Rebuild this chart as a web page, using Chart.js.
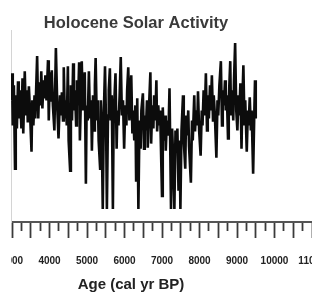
<!DOCTYPE html>
<html lang="en">
<head>
<meta charset="UTF-8">
<title>Holocene Solar Activity</title>
<style>
  body { margin: 0; background: #fff; }
</style>
</head>
<body>
<canvas id="myChart" width="312" height="296"></canvas>
<script src="https://cdn.jsdelivr.net/npm/chart.js"></script>
<script>
// age in cal yr BP
const ages = [
  2980,3000,3020,3050,3080,3100,3130,3160,3180,3210,
  3250,3280,3300,3340,3370,3400,3420,3450,3480,3520,
  3540,3570,3600,3620,3670,3700,3730,3760,3780,3810,
  3840,3860,3890,3920,3960,3980,4010,4040,4060,4090,
  4130,4170,4210,4240,4280,4300,4330,4360,4380,4410,
  4440,4460,4490,4510,4550,4570,4600,4630,4650,4680,
  4710,4730,4760,4790,4810,4840,4860,4890,4910,4940,
  4970,4990,5020,5050,5080,5110,5130,5160,5190,5210,
  5230,5260,5290,5310,5350,5370,5390,5420,5450,5480,
  5510,5530,5560,5580,5610,5630,5660,5690,5710,5740,
  5760,5790,5810,5840,5870,5900,5930,5960,5990,6020,
  6050,6070,6100,6130,6150,6180,6210,6230,6260,6290,
  6310,6340,6370,6400,6430,6450,6490,6520,6540,6570,
  6600,6620,6650,6690,6710,6740,6770,6790,6820,6850,
  6870,6900,6930,6950,7000,7020,7050,7080,7100,7130,
  7170,7200,7240,7270,7300,7330,7360,7390,7410,7440,
  7470,7490,7520,7560,7580,7620,7640,7670,7700,7720,
  7770,7800,7820,7860,7880,7910,7940,7960,7990,8030,
  8060,8080,8110,8140,8170,8200,8220,8250,8280,8300,
  8330,8360,8380,8410,8450,8480,8500,8530,8570,8600,
  8620,8650,8680,8700,8730,8760,8780,8820,8840,8870,
  8900,8920,8950,8980,9010,9040,9060,9090,9120,9140,
  9170,9200,9220,9260,9290,9310,9340,9370,9390,9430,
  9460,9480,9500
];

// solar activity index (arbitrary units, 0 = floor of the plot)
const activity = [
  108,135,83,123,40,113,80,127,90,118,
  80,130,75,137,93,118,86,122,96,57,
  108,83,113,90,152,90,126,103,137,100,
  128,110,133,108,148,88,136,108,138,103,
  78,160,98,70,113,93,116,88,141,90,
  108,83,142,68,38,123,88,145,98,118,
  83,128,103,146,68,113,147,98,113,136,
  25,103,88,137,90,108,58,113,78,123,
  150,88,108,68,40,108,83,0,98,142,
  78,0,93,118,140,88,113,0,88,118,
  135,60,98,83,113,151,93,108,60,103,
  83,118,141,88,108,133,75,98,68,103,
  27,110,0,88,60,98,115,60,93,78,
  108,61,98,136,65,103,80,113,88,128,
  77,103,83,98,13,101,68,93,58,88,
  73,120,0,80,48,0,78,58,80,18,
  68,0,78,113,68,40,93,73,98,63,
  26,88,68,113,77,98,83,117,78,53,
  98,83,118,93,135,78,113,90,123,98,
  133,88,113,93,51,108,93,123,147,83,
  118,103,128,98,113,70,108,147,93,118,
  88,128,165,98,78,113,93,125,60,103,
  143,83,108,57,98,83,111,78,98,35,
  93,128,90
];

const chartTitle = 'Holocene Solar Activity';
const axisTitle = 'Age (cal yr BP)';
const ageMin = 2973;
const ageMax = 11000;
const tickStep = 250;

// the source figure is cropped on the left: blank out whatever spills past the plot edge
const crop = {
  id: 'crop',
  afterDraw(chart) {
    const c = chart.ctx;
    c.save();
    c.fillStyle = '#fff';
    c.fillRect(0, 0, chart.chartArea.left, chart.height);
    c.restore();
  }
};

// titles sit over the data part of the plot, not the middle of the canvas
const titles = {
  id: 'titles',
  afterDraw(chart) {
    const c = chart.ctx;
    c.save();
    c.textAlign = 'center';
    c.textBaseline = 'alphabetic';
    c.fillStyle = '#3a3a3a';
    c.font = 'bold 16.5px "Liberation Sans", Arial, sans-serif';
    c.fillText(chartTitle, 136, 28);
    c.fillStyle = '#222';
    c.font = 'bold 15px "Liberation Sans", Arial, sans-serif';
    c.fillText(axisTitle, 131, 289);
    c.restore();
  }
};

const ctx = document.getElementById('myChart');

new Chart(ctx, {
  type: 'line',
  data: {
    datasets: [{
      data: ages.map((a, i) => ({ x: a, y: activity[i] })),
      borderColor: '#0c0c0c',
      borderWidth: 2.6,
      pointRadius: 0,
      tension: 0
    }]
  },
  options: {
    responsive: false,
    animation: false,
    layout: { padding: { top: 30, left: 11, right: 0, bottom: 12 } },
    scales: {
      x: {
        type: 'linear',
        min: ageMin,
        max: ageMax,
        afterBuildTicks(scale) {
          const t = [];
          for (let v = Math.ceil(ageMin / tickStep) * tickStep; v <= ageMax; v += tickStep) t.push({ value: v });
          scale.ticks = t;
        },
        afterFit(scale) {
          scale.paddingLeft = 0;
          scale.paddingRight = 0;
        },
        border: { display: true, color: '#555', width: 2 },
        grid: {
          drawOnChartArea: false,
          tickColor: '#3a3a3a',
          tickWidth: 1.8,
          tickLength: 16,
          tickBorderDash: (c) => c.tick && c.tick.value % 500 !== 0 ? [8, 40] : []
        },
        ticks: {
          autoSkip: false,
          maxRotation: 0,
          minRotation: 0,
          padding: 17,
          color: '#222',
          font: { family: '"Liberation Sans", Arial, sans-serif', size: 10, weight: 'bold' },
          callback: (v) => v % 1000 === 0 ? String(v) : ''
        }
      },
      y: {
        display: true,
        min: -13,
        max: 178,
        afterFit(scale) {
          scale.width = 0;
        },
        ticks: { display: false },
        grid: { display: false, drawTicks: false },
        border: { display: true, color: '#d4d4d4', width: 1 }
      }
    },
    plugins: {
      legend: { display: false },
      tooltip: { enabled: false }
    }
  },
  plugins: [crop, titles]
});
</script>
</body>
</html>
